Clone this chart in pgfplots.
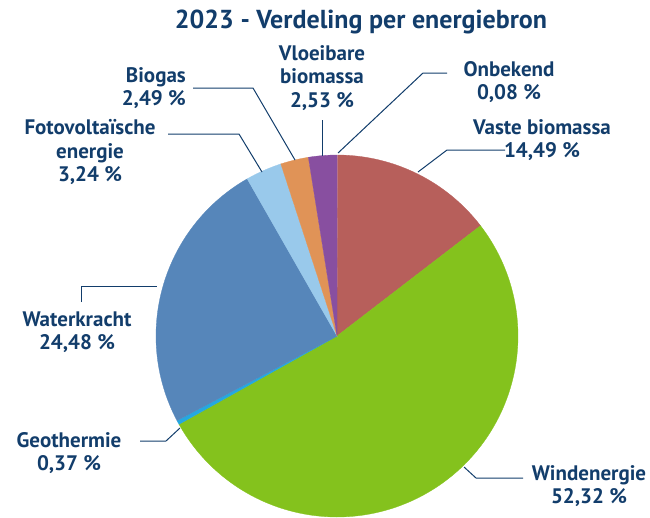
\documentclass[border=0pt]{standalone}
\usepackage{pgfplots}
\pgfplotsset{compat=1.18}
\usepackage{fontspec}
\setmainfont{PT Sans}
\definecolor{navy}{RGB}{18,61,107}
\definecolor{cVaste}{HTML}{B75F5B}
\definecolor{cWind}{HTML}{84C21D}
\definecolor{cGeo}{HTML}{25A8E0}
\definecolor{cWater}{HTML}{5686BA}
\definecolor{cFoto}{HTML}{99C9EB}
\definecolor{cBiogas}{HTML}{E09357}
\definecolor{cVloei}{HTML}{884FA0}
\definecolor{cOnb}{HTML}{D69AA5}
% shares (%), clockwise from 12 o'clock:
% Onbekend 0.08, Vaste biomassa 14.49, Windenergie 52.32, Geothermie 0.37,
% Waterkracht 24.48, Fotovoltaische energie 3.24, Biogas 2.49, Vloeibare biomassa 2.53
\begin{document}
\begin{tikzpicture}[
  lab/.style={text=navy, font=\fontsize{21}{23.5}\selectfont\bfseries, align=center, inner sep=0pt},
  lead/.style={draw=navy, line width=1pt}]
\useasboundingbox (0,0) rectangle (650pt,517pt);
\begin{axis}[
  at={(0,0)}, anchor=south west,
  scale only axis, width=650pt, height=517pt,
  xmin=0, xmax=650, ymin=0, ymax=517, y dir=reverse,
  axis lines=none, clip=false, variable=\t]
% slices: angle = 90 - 3.6 * cumulative share
\addplot[fill=cOnb, draw=cOnb, line width=0.3pt, domain={90-3.6*0.08}:{90}, samples=4]
  ({337+181*cos(t)},{336-181*sin(t)}) -- (axis cs:337,336) -- cycle;
\addplot[fill=cVaste, draw=cVaste, line width=0.3pt, domain={90-3.6*14.57}:{90-3.6*0.08}, samples=60]
  ({337+181*cos(t)},{336-181*sin(t)}) -- (axis cs:337,336) -- cycle;
\addplot[fill=cWind, draw=cWind, line width=0.3pt, domain={90-3.6*66.89}:{90-3.6*14.57}, samples=150]
  ({337+181*cos(t)},{336-181*sin(t)}) -- (axis cs:337,336) -- cycle;
\addplot[fill=cGeo, draw=cGeo, line width=0.3pt, domain={90-3.6*67.26}:{90-3.6*66.89}, samples=4]
  ({337+181*cos(t)},{336-181*sin(t)}) -- (axis cs:337,336) -- cycle;
\addplot[fill=cWater, draw=cWater, line width=0.3pt, domain={90-3.6*91.74}:{90-3.6*67.26}, samples=90]
  ({337+181*cos(t)},{336-181*sin(t)}) -- (axis cs:337,336) -- cycle;
\addplot[fill=cFoto, draw=cFoto, line width=0.3pt, domain={90-3.6*94.98}:{90-3.6*91.74}, samples=15]
  ({337+181*cos(t)},{336-181*sin(t)}) -- (axis cs:337,336) -- cycle;
\addplot[fill=cBiogas, draw=cBiogas, line width=0.3pt, domain={90-3.6*97.47}:{90-3.6*94.98}, samples=12]
  ({337+181*cos(t)},{336-181*sin(t)}) -- (axis cs:337,336) -- cycle;
\addplot[fill=cVloei, draw=cVloei, line width=0.3pt, domain={90-3.6*100}:{90-3.6*97.47}, samples=12]
  ({337+181*cos(t)},{336-181*sin(t)}) -- (axis cs:337,336) -- cycle;

% title
\node[text=navy, font=\fontsize{26}{28}\selectfont\bfseries, inner sep=0pt] at (axis cs:361,22) {2023 - Verdeling per energiebron};

% labels
\node[lab] at (axis cs:322,78) {Vloeibare\\biomassa\\2,53 \%};
\node[lab] at (axis cs:509,82) {Onbekend\\0,08 \%};
\node[lab] at (axis cs:542,140) {Vaste biomassa\\14,49 \%};
\node[lab, align=right, anchor=east] at (axis cs:186,88) {Biogas\\2,49 \%};
\node[lab] at (axis cs:90,152) {Fotovoltaïsche\\energie\\3,24 \%};
\node[lab] at (axis cs:77,332) {Waterkracht\\24,48 \%};
\node[lab] at (axis cs:69,453) {Geothermie\\0,37 \%};
\node[lab] at (axis cs:589,486) {Windenergie\\52,32 \%};

% leader lines
\draw[lead] (axis cs:322,120) -- (axis cs:322,156);
\draw[lead] (axis cs:338,153) -- (axis cs:423,73) -- (axis cs:447,73);
\draw[lead] (axis cs:418,172) -- (axis cs:447,150) -- (axis cs:505,150);
\draw[lead] (axis cs:193,88) -- (axis cs:253,88) -- (axis cs:295,160);
\draw[lead] (axis cs:168,134) -- (axis cs:239,134) -- (axis cs:262,172);
\draw[lead] (axis cs:81,302) -- (axis cs:81,286) -- (axis cs:157,286);
\draw[lead] (axis cs:140,441) -- (axis cs:166,441) -- (axis cs:180,428);
\draw[lead] (axis cs:464,467) -- (axis cs:476,478) -- (axis cs:523,478);
\end{axis}
\end{tikzpicture}
\end{document}
